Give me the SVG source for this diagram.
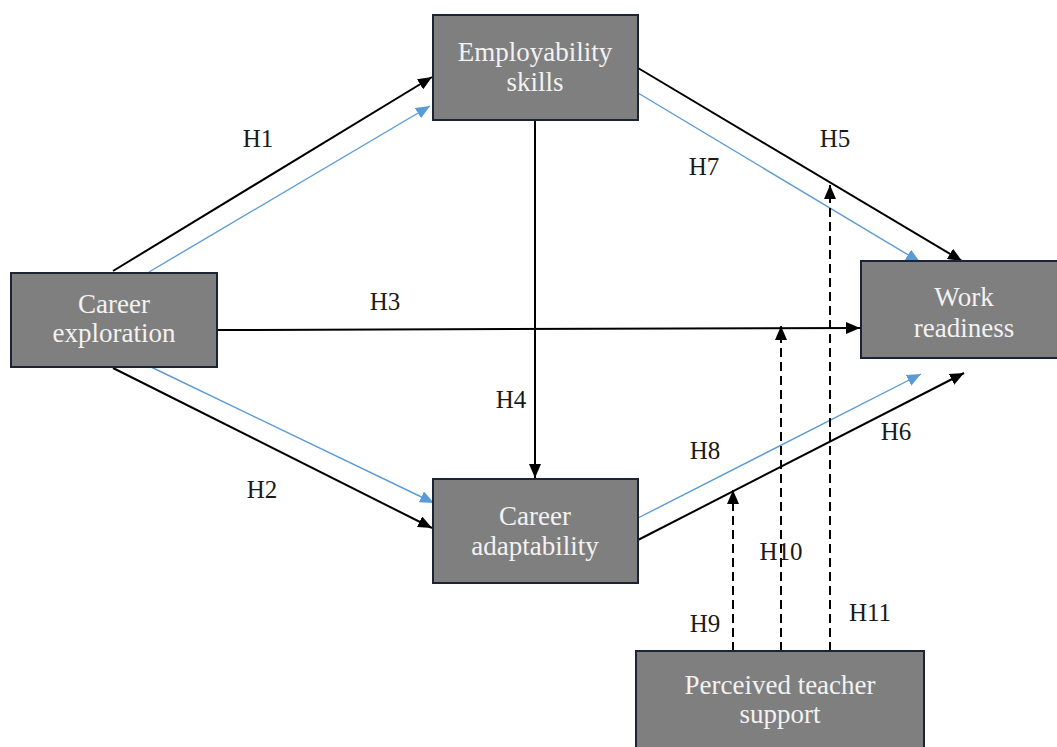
<svg xmlns="http://www.w3.org/2000/svg" width="1057" height="747" viewBox="0 0 1057 747">
<style>
.box{fill:#7f7f7f;stroke:#1c2433;stroke-width:2}
.nt{font-family:"Liberation Serif","Times New Roman",serif;font-size:27px;fill:#f2f2f2;text-anchor:middle}
.lb{font-family:"Liberation Serif","Times New Roman",serif;font-size:25px;fill:#1a1a1a;text-anchor:middle}
.k{stroke:#000;stroke-width:2;fill:none}
.b{stroke:#5b9bd5;stroke-width:1.4;fill:none}
.d{stroke:#000;stroke-width:2;fill:none;stroke-dasharray:9 5}
</style>
<defs>
<marker id="ak" viewBox="0 0 14 12" refX="14" refY="6" markerWidth="14" markerHeight="12" markerUnits="userSpaceOnUse" orient="auto"><path d="M0,0 L14,6 L0,12 z" fill="#000"/></marker>
<marker id="ab" viewBox="0 0 14 12" refX="14" refY="6" markerWidth="14" markerHeight="12" markerUnits="userSpaceOnUse" orient="auto"><path d="M0,0 L14,6 L0,12 z" fill="#5b9bd5"/></marker>
</defs>
<rect width="1057" height="747" fill="#fff"/>
<g id="connectors">
<line class="k" x1="113" y1="271" x2="432" y2="77" marker-end="url(#ak)"/>
<line class="b" x1="149" y1="272" x2="430" y2="106" marker-end="url(#ab)"/>
<line class="k" x1="113" y1="368" x2="432" y2="528" marker-end="url(#ak)"/>
<line class="b" x1="149" y1="366" x2="434" y2="503" marker-end="url(#ab)"/>
<line class="k" x1="217" y1="330" x2="860" y2="328" marker-end="url(#ak)"/>
<line class="k" x1="535" y1="120" x2="535" y2="478" marker-end="url(#ak)"/>
<line class="k" x1="638" y1="68" x2="962" y2="261" marker-end="url(#ak)"/>
<line class="b" x1="638" y1="93" x2="920" y2="262" marker-end="url(#ab)"/>
<line class="k" x1="638" y1="540" x2="964" y2="373" marker-end="url(#ak)"/>
<line class="b" x1="638" y1="518" x2="921" y2="374" marker-end="url(#ab)"/>
<line class="d" x1="733" y1="651" x2="733" y2="490" marker-end="url(#ak)"/>
<line class="d" x1="781" y1="651" x2="781" y2="326" marker-end="url(#ak)"/>
<line class="d" x1="830" y1="651" x2="830" y2="185" marker-end="url(#ak)"/>
</g>
<g id="labels">
<text class="lb" x="258" y="147">H1</text>
<text class="lb" x="262" y="498">H2</text>
<text class="lb" x="385" y="310">H3</text>
<text class="lb" x="511" y="408">H4</text>
<text class="lb" x="835" y="147">H5</text>
<text class="lb" x="896" y="440">H6</text>
<text class="lb" x="704" y="175">H7</text>
<text class="lb" x="705" y="459">H8</text>
<text class="lb" x="705" y="632">H9</text>
<text class="lb" x="781" y="560">H10</text>
<text class="lb" x="870" y="621">H11</text>
</g>
<g id="employability">
<rect class="box" x="433" y="15" width="205" height="105"/>
<text class="nt" x="535" y="61">Employability</text>
<text class="nt" x="535" y="91">skills</text>
</g>
<g id="exploration">
<rect class="box" x="11" y="273" width="206" height="94"/>
<text class="nt" x="114" y="313">Career</text>
<text class="nt" x="114" y="342">exploration</text>
</g>
<g id="readiness">
<rect class="box" x="861" y="261" width="198" height="97"/>
<text class="nt" x="964" y="306">Work</text>
<text class="nt" x="964" y="337">readiness</text>
</g>
<g id="adaptability">
<rect class="box" x="433" y="479" width="205" height="104"/>
<text class="nt" x="535" y="525">Career</text>
<text class="nt" x="535" y="555">adaptability</text>
</g>
<g id="teacher">
<rect class="box" x="636" y="651" width="288" height="100"/>
<text class="nt" x="780" y="694">Perceived teacher</text>
<text class="nt" x="780" y="723">support</text>
</g>
</svg>
